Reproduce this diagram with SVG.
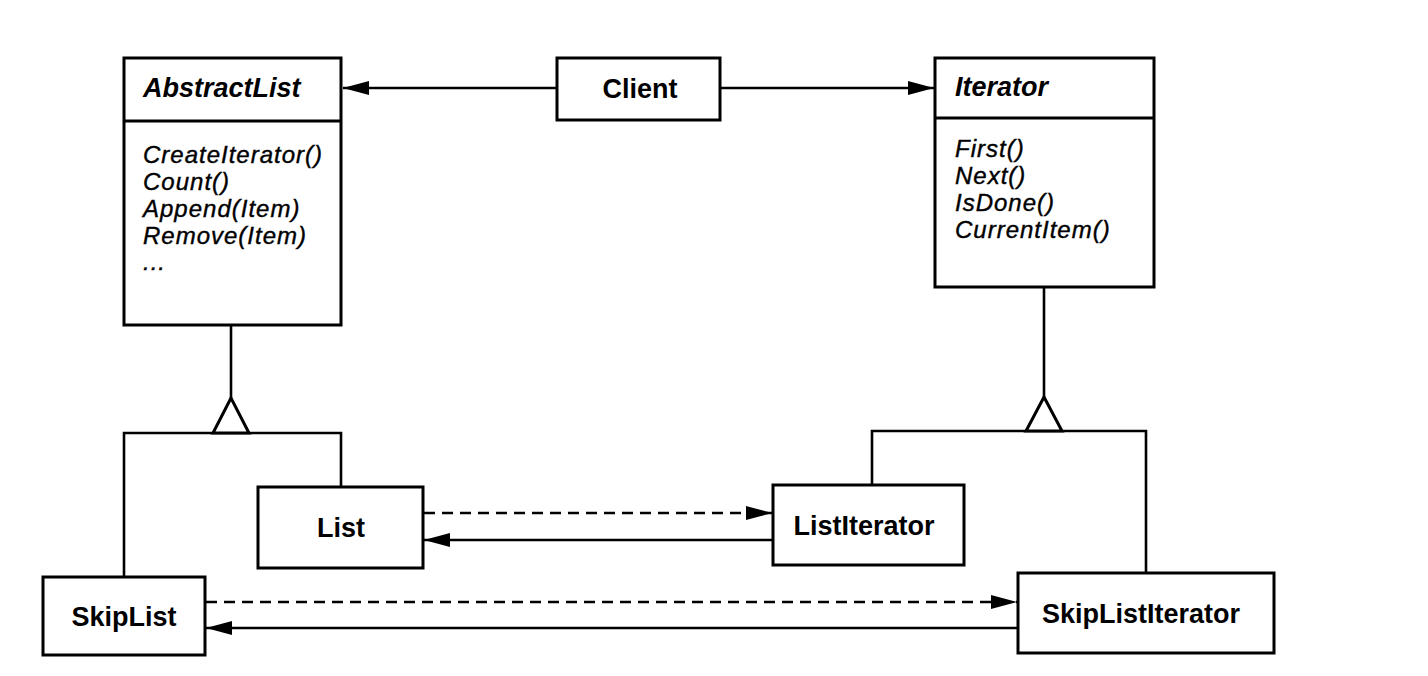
<svg xmlns="http://www.w3.org/2000/svg" width="1428" height="676" viewBox="0 0 1428 676">
  <style>
    .box { fill: #fff; stroke: #000; stroke-width: 3; }
    .div { stroke: #000; stroke-width: 3; }
    .line { fill: none; stroke: #000; stroke-width: 2.6; }
    .dash { fill: none; stroke: #000; stroke-width: 2.6; stroke-dasharray: 11 7; }
    .tri { fill: #fff; stroke: #000; stroke-width: 3; stroke-linejoin: miter; }
    .name { font-family: "Liberation Sans", Arial, sans-serif; font-size: 27px; font-weight: bold; fill: #000; }
    .abs { font-family: "Liberation Sans", Arial, sans-serif; font-size: 27px; font-weight: bold; font-style: italic; fill: #000; }
    .op { font-family: "Liberation Sans", Arial, sans-serif; font-size: 24px; letter-spacing: 1px; font-style: italic; fill: #000; stroke: #000; stroke-width: 0.4; }
  </style>
  <defs>
    <marker id="arrow" viewBox="0 0 26 14" refX="26" refY="7" markerWidth="26" markerHeight="14" markerUnits="userSpaceOnUse" orient="auto">
      <path d="M0,0 L26,7 L0,14 Z" fill="#000"/>
    </marker>
  </defs>
  <rect width="1428" height="676" fill="#fff"/>

  <!-- connectors -->
  <g id="connectors">
    <line class="line" x1="557" y1="88" x2="343" y2="88" marker-end="url(#arrow)"/>
    <line class="line" x1="720" y1="88" x2="934" y2="88" marker-end="url(#arrow)"/>

    <!-- AbstractList generalization -->
    <line class="line" x1="231" y1="325" x2="231" y2="398"/>
    <polyline class="line" points="124,577 124,433 341,433 341,487"/>
    <polygon class="tri" points="231,398 213,433 249,433"/>

    <!-- Iterator generalization -->
    <line class="line" x1="1044" y1="287" x2="1044" y2="397"/>
    <polyline class="line" points="872,485 872,431 1146,431 1146,573"/>
    <polygon class="tri" points="1044,397 1026,431 1062,431"/>

    <!-- List <-> ListIterator -->
    <line class="dash" x1="424" y1="513" x2="772" y2="513" marker-end="url(#arrow)"/>
    <line class="line" x1="773" y1="540" x2="424" y2="540" marker-end="url(#arrow)"/>

    <!-- SkipList <-> SkipListIterator -->
    <line class="dash" x1="206" y1="602" x2="1017" y2="602" marker-end="url(#arrow)"/>
    <line class="line" x1="1018" y1="628" x2="206" y2="628" marker-end="url(#arrow)"/>
  </g>

  <g id="AbstractList">
    <rect class="box" x="124" y="58" width="217" height="267"/>
    <line class="div" x1="124" y1="121" x2="341" y2="121"/>
    <text class="abs" x="143" y="97">AbstractList</text>
    <text class="op" x="143" y="163">CreateIterator()</text>
    <text class="op" x="143" y="190">Count()</text>
    <text class="op" x="143" y="217">Append(Item)</text>
    <text class="op" x="143" y="244">Remove(Item)</text>
    <text class="op" x="143" y="270">...</text>
  </g>

  <g id="Client">
    <rect class="box" x="557" y="58" width="163" height="62"/>
    <text class="name" x="640" y="98" text-anchor="middle">Client</text>
  </g>

  <g id="Iterator">
    <rect class="box" x="935" y="58" width="219" height="229"/>
    <line class="div" x1="935" y1="118" x2="1154" y2="118"/>
    <text class="abs" x="955" y="96">Iterator</text>
    <text class="op" x="955" y="157">First()</text>
    <text class="op" x="955" y="184">Next()</text>
    <text class="op" x="955" y="211">IsDone()</text>
    <text class="op" x="955" y="238">CurrentItem()</text>
  </g>

  <g id="List">
    <rect class="box" x="258" y="487" width="165" height="81"/>
    <text class="name" x="341" y="537" text-anchor="middle">List</text>
  </g>

  <g id="ListIterator">
    <rect class="box" x="773" y="485" width="191" height="80"/>
    <text class="name" x="864" y="535" text-anchor="middle">ListIterator</text>
  </g>

  <g id="SkipList">
    <rect class="box" x="43" y="577" width="162" height="78"/>
    <text class="name" x="124" y="626" text-anchor="middle">SkipList</text>
  </g>

  <g id="SkipListIterator">
    <rect class="box" x="1018" y="573" width="256" height="80"/>
    <text class="name" x="1141" y="623" text-anchor="middle">SkipListIterator</text>
  </g>
</svg>
